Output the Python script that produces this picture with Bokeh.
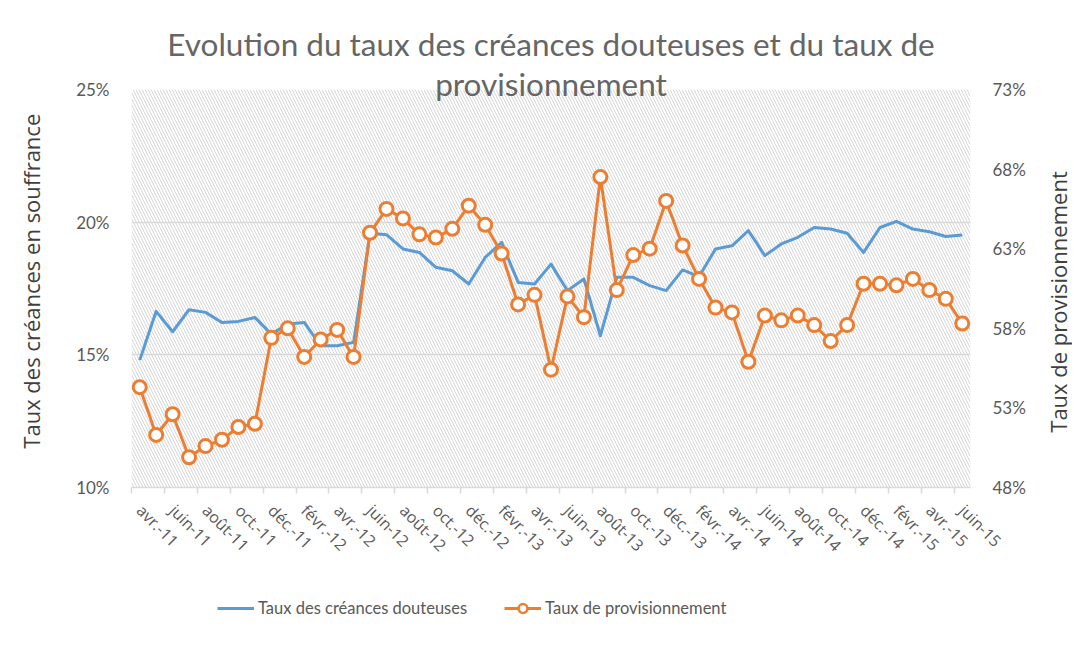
import math
from bokeh.plotting import figure
from bokeh.layouts import column, row
from bokeh.models import (Range1d, LinearAxis, FixedTicker, PrintfTickFormatter,
                          Legend, LegendItem, BoxAnnotation, Title, Label)
from bokeh.embed import file_html
from bokeh.resources import INLINE

months = ["avr.-11", "mai-11", "juin-11", "juil.-11", "août-11", "sept.-11", "oct.-11", "nov.-11", "déc.-11",
          "janv.-12", "févr.-12", "mars-12", "avr.-12", "mai-12", "juin-12", "juil.-12", "août-12", "sept.-12",
          "oct.-12", "nov.-12", "déc.-12",
          "janv.-13", "févr.-13", "mars-13", "avr.-13", "mai-13", "juin-13", "juil.-13", "août-13", "sept.-13",
          "oct.-13", "nov.-13", "déc.-13",
          "janv.-14", "févr.-14", "mars-14", "avr.-14", "mai-14", "juin-14", "juil.-14", "août-14", "sept.-14",
          "oct.-14", "nov.-14", "déc.-14",
          "janv.-15", "févr.-15", "mars-15", "avr.-15", "mai-15", "juin-15"]

# Taux des créances douteuses (%), left axis
douteuses = [14.8, 16.64, 15.87, 16.70, 16.60, 16.22, 16.26, 16.41, 15.78, 16.16,
             16.22, 15.34, 15.34, 15.47, 19.58, 19.53, 18.99, 18.86, 18.30, 18.17,
             17.67, 18.67, 19.24, 17.73, 17.67, 18.42, 17.42, 17.86, 15.72, 17.92,
             17.92, 17.61, 17.42, 18.20, 17.95, 18.99, 19.11, 19.68, 18.74, 19.18,
             19.43, 19.80, 19.74, 19.58, 18.86, 19.80, 20.03, 19.74, 19.64, 19.46,
             19.52]

# Taux de provisionnement (%), right axis
provision = [54.3, 51.3, 52.6, 49.9, 50.6, 51.0, 51.8, 52.0, 57.4, 58.0,
             56.2, 57.3, 57.9, 56.2, 64.0, 65.5, 64.9, 63.9, 63.7, 64.25,
             65.7, 64.5, 62.7, 59.5, 60.1, 55.4, 60.0, 58.7, 67.5, 60.4,
             62.6, 63.0, 66.0, 63.2, 61.1, 59.3, 59.0, 55.9, 58.8, 58.5,
             58.8, 58.2, 57.2, 58.2, 60.8, 60.8, 60.7, 61.1, 60.4, 59.85,
             58.3]

left_ticks = [10, 15, 20, 25]
right_ticks = [48, 53, 58, 63, 68, 73]

title_lines = ["Evolution du taux des créances douteuses et du taux de", "provisionnement"]
left_title = "Taux des créances en souffrance"
right_title = "Taux de provisionnement"
series_names = ["Taux des créances douteuses", "Taux de provisionnement"]

x = list(range(len(months)))

FONT = "Lato"
GREY = "#595959"
DARK = "#404040"
BLUE = "#5B9BD5"
ORANGE = "#ED7D31"

H = 575          # height of the chart row
LEFT_W = 50      # strip holding the left axis title
RIGHT_W = 36     # strip holding the right axis title
MAIN_W = 986     # main figure (frame from x=131 to x=970 on the page)


def side_strip(width, text, sx, sy):
    s = figure(width=width, height=H, output_backend="svg", toolbar_location=None,
               x_range=Range1d(0, width), y_range=Range1d(0, H), min_border=0,
               x_axis_type=None, y_axis_type=None,
               background_fill_color="white", border_fill_color="white")
    s.outline_line_color = None
    s.grid.visible = False
    s.add_layout(Label(x=sx, y=H - sy, text=text, angle=math.pi / 2,
                       text_align="center", text_baseline="middle", text_font="Open Sans",
                       text_font_size="22px", text_color=DARK))
    return s


# ---------------- main chart ----------------
fig = figure(width=MAIN_W, height=H, output_backend="svg", toolbar_location=None,
             x_range=Range1d(-0.5, len(months) - 0.5), y_range=Range1d(10, 25),
             min_border_left=131 - LEFT_W, min_border_right=MAIN_W + LEFT_W - 970,
             min_border_top=89, min_border_bottom=H - 487,
             background_fill_color="white", border_fill_color="white")
fig.title.visible = False
fig.outline_line_color = None
fig.xgrid.visible = False
fig.ygrid.ticker = FixedTicker(ticks=left_ticks)
fig.ygrid.grid_line_color = "#d9d9d9"
fig.ygrid.grid_line_width = 1.5

# hatched plot area
fig.add_layout(BoxAnnotation(fill_alpha=0, line_alpha=0, hatch_pattern="\\", hatch_color="#d6d6d6",
                             hatch_scale=6, hatch_weight=1, level="image"))

# left axis
ya = fig.yaxis[0]
ya.ticker = FixedTicker(ticks=left_ticks)
ya.formatter = PrintfTickFormatter(format="%d%%")
ya.axis_line_color = None
ya.major_tick_line_color = None
ya.minor_tick_line_color = None
ya.major_tick_out = 0
ya.major_label_standoff = 22
ya.major_label_text_font = FONT
ya.major_label_text_font_size = "17px"
ya.major_label_text_color = GREY

# right axis
fig.extra_y_ranges = {"prov": Range1d(48, 73)}
ra = LinearAxis(y_range_name="prov", ticker=FixedTicker(ticks=right_ticks),
                formatter=PrintfTickFormatter(format="%d%%"))
ra.axis_line_color = None
ra.major_tick_line_color = None
ra.minor_tick_line_color = None
ra.major_tick_out = 0
ra.major_label_standoff = 22
ra.major_label_text_font = FONT
ra.major_label_text_font_size = "17px"
ra.major_label_text_color = GREY
fig.add_layout(ra, "right")

# x axis
xa = fig.xaxis[0]
xa.ticker = FixedTicker(ticks=x[::2], minor_ticks=[i - 0.5 for i in x[::2]])
xa.major_label_overrides = {i: months[i] for i in x[::2]}
xa.major_label_orientation = -math.pi / 4
xa.major_tick_line_color = None
xa.major_tick_out = 6
xa.minor_tick_line_color = "#d9d9d9"
xa.minor_tick_line_width = 1.5
xa.minor_tick_out = 6
xa.minor_tick_in = 0
xa.axis_line_color = "#d9d9d9"
xa.axis_line_width = 1.5
xa.major_label_standoff = 14
xa.major_label_text_font = "Open Sans"
xa.major_label_text_font_size = "16px"
xa.major_label_text_color = GREY

# series
fig.line(x, douteuses, line_color=BLUE, line_width=3, line_join="round")
fig.line(x, provision, y_range_name="prov", line_color=ORANGE, line_width=3, line_join="round")
fig.scatter(x, provision, y_range_name="prov", size=13, marker="circle",
            fill_color="white", line_color=ORANGE, line_width=3)

# title, two lines (second line closest to the plot, overlapping its top edge)
fig.add_layout(Title(text=title_lines[1], align="center", text_font=FONT, text_font_size="31.5px",
                     text_font_style="normal", text_color="#666666", standoff=-26), "above")
fig.add_layout(Title(text=title_lines[0], align="center", text_font=FONT, text_font_size="31.5px",
                     text_font_style="normal", text_color="#666666", standoff=25), "above")

# ---------------- axis titles ----------------
left_strip = side_strip(LEFT_W, left_title, 30, 277)
right_strip = side_strip(RIGHT_W, right_title, 21, 307)

# ---------------- legend strip ----------------
TOTAL_W = LEFT_W + MAIN_W + RIGHT_W
leg = figure(width=TOTAL_W, height=63, output_backend="svg", toolbar_location=None,
             x_range=Range1d(0, 1), y_range=Range1d(0, 1),
             min_border_left=131, min_border_right=TOTAL_W - 970, min_border_top=0, min_border_bottom=0,
             x_axis_type=None, y_axis_type=None,
             background_fill_color="white", border_fill_color="white")
leg.outline_line_color = None
leg.grid.visible = False
# proxies of the two series (their data lie outside this strip's ranges, only the legend shows)
lb = leg.line(x, douteuses, line_color=BLUE, line_width=3)
lo = leg.line(x, provision, line_color=ORANGE, line_width=3)
so = leg.scatter(x, provision, marker="circle", size=13, fill_color="white", line_color=ORANGE, line_width=2.5)
legend = Legend(items=[LegendItem(label=series_names[0], renderers=[lb]),
                       LegendItem(label=series_names[1], renderers=[lo, so])],
                orientation="horizontal", location=(86, 19), padding=0, margin=0, spacing=37,
                label_standoff=4, glyph_width=37, glyph_height=22,
                label_text_font=FONT, label_text_font_size="16.5px", label_text_color=GREY,
                background_fill_alpha=0, border_line_color=None)
leg.add_layout(legend, "center")

p = column(row(left_strip, fig, right_strip, spacing=0), leg, spacing=0)

open("out.html", "w").write(file_html(p, INLINE))
